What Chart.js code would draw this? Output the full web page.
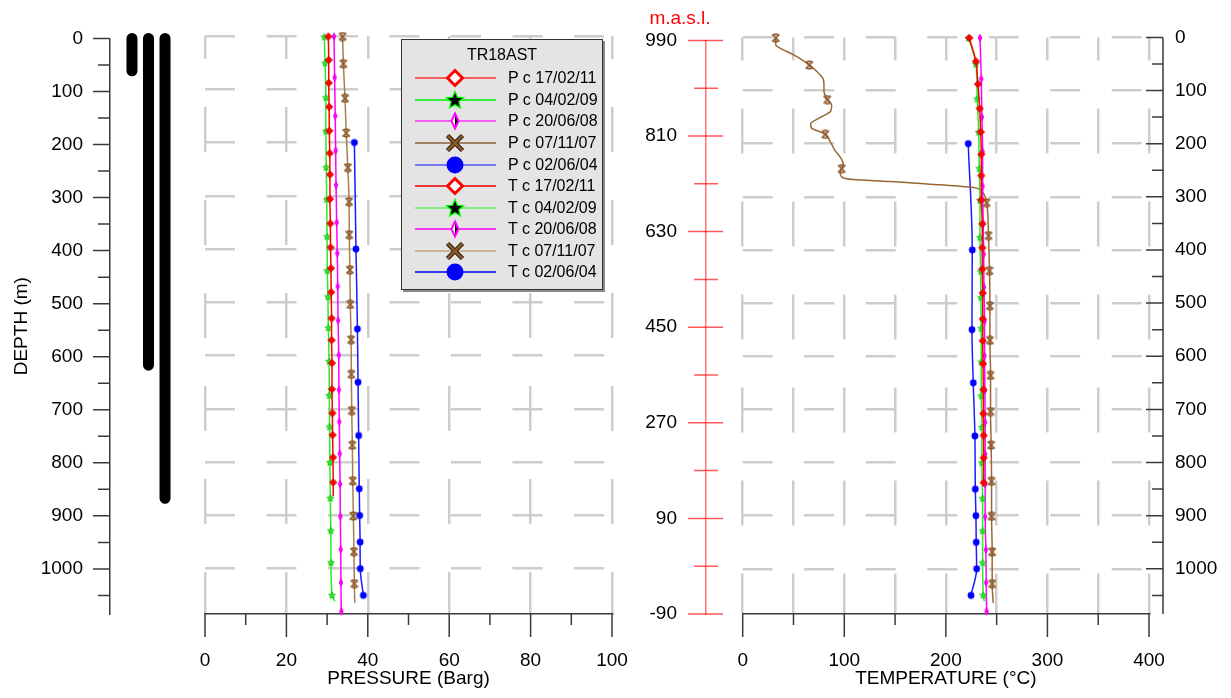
<!DOCTYPE html>
<html>
<head>
<meta charset="utf-8">
<script src="https://cdn.jsdelivr.net/npm/chart.js@4.4.1/dist/chart.umd.min.js"></script>
<style>
  html, body { margin: 0; padding: 0; background: #fff; }
  #wrap { position: relative; width: 1231px; height: 698px; overflow: hidden; font-family: 'Liberation Sans', Arial, sans-serif; }
  #wrap canvas.plot { position: absolute; top: 0; }
  #legend { position: absolute; left: 401px; top: 39px; width: 202px; height: 251px; box-sizing: border-box;
            background: #e4e4e4; border: 1px solid #333; box-shadow: 2px 2px 0 #8a8a8a; }
  #legend .tt { position: absolute; left: 0; right: 0; top: 6px; text-align: center; font-size: 16px; }
  #legend .row { position: absolute; left: 12px; height: 20px; width: 190px; }
  #legend .row canvas { position: absolute; left: 0; top: 0; }
  #legend .row span { position: absolute; left: 94px; top: 1px; font-size: 16px; white-space: nowrap; }
</style>
</head>
<body>
<div id="wrap">
  <canvas class="plot" id="cPress" width="640" height="698" style="left:0"></canvas>
  <canvas class="plot" id="cTemp" width="1231" height="698" style="left:0"></canvas>
  <canvas class="plot" id="cMasl" width="124" height="698" style="left:618px"></canvas>
  <canvas class="plot" id="cCasing" width="215" height="698" style="left:0"></canvas>
  <div id="legend"><div class="tt">TR18AST</div></div>
</div>
<script>
// ---- datos ----
const fechas = ['17/02/11', '04/02/09', '20/06/08', '07/11/07', '02/06/04'];

// tuberias de revestimiento (columna, profundidad de zapata en m)
const casingCol = [1, 2, 3];
const casingShoe = [61, 616, 867];

// presion (Barg) vs profundidad (m)
const pDepth1 = [1, 45, 88, 133, 178, 220, 260, 306, 352, 397, 436, 481, 530, 571, 614, 663, 708, 749, 791, 838, 864];
const pVal1   = [30.3, 30.4, 30.4, 30.5, 30.55, 30.65, 30.7, 30.7, 30.8, 30.85, 30.95, 31.0, 31.1, 31.1, 31.2, 31.2, 31.3, 31.35, 31.45, 31.5, 31.5];
const pDepth2 = [1, 50, 115, 178, 246, 306, 376, 440, 489, 547, 610, 674, 733, 800, 867, 928, 988, 1049, 1061];
const pVal2   = [29.3, 29.5, 29.7, 29.7, 29.8, 29.9, 30.0, 30.05, 30.2, 30.3, 30.5, 30.55, 30.6, 30.7, 30.8, 30.9, 30.95, 31.2, 31.9];
const pDepth3 = [1, 78, 150, 215, 280, 350, 408, 470, 534, 599, 664, 724, 784, 841, 902, 964, 1026, 1080];
const pVal3   = [31.7, 31.85, 32.0, 32.1, 32.2, 32.35, 32.5, 32.6, 32.7, 32.85, 32.9, 33.0, 33.1, 33.2, 33.25, 33.35, 33.4, 33.5];
const pDepth4 = [1, 52, 117, 182, 247, 311, 373, 439, 504, 570, 635, 703, 768, 835, 901, 968, 1028, 1064];
const pVal4   = [33.8, 34.0, 34.4, 34.7, 35.1, 35.4, 35.45, 35.6, 35.7, 35.9, 35.95, 36.05, 36.2, 36.3, 36.45, 36.6, 36.7, 36.8];
const pDepth5 = [200, 400, 550, 650, 750, 850, 900, 950, 1000, 1050];
const pVal5   = [36.7, 37.1, 37.45, 37.6, 37.75, 37.9, 38.0, 38.1, 38.15, 38.9];

// temperatura (C) vs profundidad (m)
const tDepth1 = [1, 45, 88, 134, 178, 220, 260, 306, 351, 396, 436, 481, 530, 571, 614, 663, 708, 749, 791, 838];
const tVal1   = [223, 229.6, 231.6, 233.3, 234.3, 234.9, 234.9, 234.9, 235.9, 235.9, 235.9, 236.3, 236.3, 236.3, 236.6, 236.9, 236.9, 237.2, 237.2, 237.2];
const tDepth2 = [1, 50, 115, 178, 246, 306, 376, 440, 489, 547, 610, 674, 733, 800, 867, 928, 988, 1049, 1061];
const tVal2   = [222.4, 229.6, 230.9, 232.3, 232.9, 233.6, 233.6, 234.3, 234.5, 234.9, 234.9, 234.9, 235.5, 235.5, 236.2, 236.2, 236.2, 236.8, 237.8];
const tDepth3 = [1, 78, 150, 215, 280, 350, 408, 470, 534, 599, 664, 724, 784, 841, 902, 964, 1026, 1080];
const tVal3   = [233.6, 234.9, 235.5, 236.2, 236.2, 236.8, 237.2, 237.5, 238.1, 238.1, 238.4, 238.7, 238.7, 238.7, 238.7, 239.4, 239.7, 240.1];
const tDepth4 = [1, 13.7, 20, 32.5, 43.7, 52, 63.7, 76.3, 88.8, 101, 117, 127.5, 138.8, 151, 162.5, 171, 177.5, 182.5, 195, 212.5,
                 229.4, 238.8, 247, 254.4, 262.5, 267.5, 271, 277.5, 282.5, 287.5, 295, 311, 373, 439, 505, 570, 636, 704, 767, 835,
                 901, 968, 1028, 1064];
const tVal4   = [32.5, 32.5, 36.7, 49.8, 59.6, 65.6, 72.8, 78.7, 80, 80, 83.3, 87.6, 86.6, 76.1, 66.9, 67.9, 76.1, 81.3, 85.9, 90.8,
                 97.4, 99, 97.4, 95.8, 97.4, 108.9, 145, 194.2, 227, 234.3, 237.5, 240.2, 242, 243, 243.4, 243.4, 244, 244, 244.6, 245,
                 245, 245.6, 245.6, 246.6];
const tMarks4 = [1, 52, 117, 182.5, 247, 311, 373, 439, 505, 570, 636, 704, 767, 835, 901, 968, 1028];
const tDepth5 = [200, 400, 550, 650, 750, 850, 900, 950, 1000, 1050];
const tVal5   = [222, 226, 225.7, 227, 228.6, 229, 229.6, 229.9, 230.3, 224.7];

// ejes
const depthMax = 1085;
const maslMin = -90, maslMax = 990;

const FONT = "'Liberation Sans', Arial, sans-serif";
Chart.defaults.font.family = FONT;
Chart.defaults.color = '#000';

const GRID = '#cdcdcd';
const AXIS = '#3a3a3a';
const DASH_V = [45, 48], DASH_H = [30, 31.5];
const COL_P = ['#ff0000', '#22ee22', '#ff00ff', '#a87d50', '#1a1aff'];
const COL_T = ['#ff0000', '#22ee22', '#ff00ff', '#9a6635', '#1a1aff'];
const COL_LEG_P = ['#ff3030', '#00ee00', '#ff33ff', '#8c6239', '#5555ff'];
const COL_LEG_T = ['#ee0000', '#66ee66', '#ff00ff', '#c4a582', '#0000ee'];
const FORMAS = ['diamond', 'star', 'thin', 'x', 'circle'];

// marcadores dibujados en un canvas pequeño
function marcador(tipo, grande) {
  const n = grande ? 22 : 10;
  const c = document.createElement('canvas');
  c.width = n; c.height = n;
  const g = c.getContext('2d');
  const m = n / 2;
  const r = grande ? 7.5 : 3.6;
  if (tipo === 'diamond') {
    g.beginPath(); g.moveTo(m, m - r); g.lineTo(m + r, m); g.lineTo(m, m + r); g.lineTo(m - r, m); g.closePath();
    if (grande) { g.fillStyle = '#fff'; g.fill(); g.lineWidth = 3; g.strokeStyle = '#ff0000'; g.stroke(); }
    else { g.fillStyle = '#ff0000'; g.fill(); g.lineWidth = 1; g.strokeStyle = '#dd0000'; g.stroke(); }
  } else if (tipo === 'star') {
    g.beginPath();
    for (let k = 0; k < 10; k++) {
      const rr = k % 2 ? r * 0.45 : r;
      const a = -Math.PI / 2 + k * Math.PI / 5;
      g.lineTo(m + rr * Math.cos(a), m + 0.5 + rr * Math.sin(a));
    }
    g.closePath();
    if (grande) { g.lineWidth = 2.5; g.strokeStyle = '#00ff00'; g.stroke(); g.fillStyle = '#000'; g.fill(); }
    else { g.fillStyle = '#22ee22'; g.fill(); g.lineWidth = 0.8; g.strokeStyle = '#11bb11'; g.stroke(); }
  } else if (tipo === 'thin') {
    const w = grande ? 3.5 : 1.8;
    g.beginPath(); g.moveTo(m, m - r); g.lineTo(m + w, m); g.lineTo(m, m + r); g.lineTo(m - w, m); g.closePath();
    if (grande) {
      g.fillStyle = '#fff'; g.fill();
      g.beginPath(); g.moveTo(m, m - r); g.lineTo(m + w, m); g.lineTo(m, m + r); g.closePath(); g.fillStyle = '#000'; g.fill();
      g.beginPath(); g.moveTo(m, m - r); g.lineTo(m + w, m); g.lineTo(m, m + r); g.lineTo(m - w, m); g.closePath();
      g.lineWidth = 2; g.strokeStyle = '#ff00ff'; g.stroke();
    } else { g.fillStyle = '#ff00ff'; g.fill(); g.lineWidth = 1; g.strokeStyle = '#ee00ee'; g.stroke(); }
  } else if (tipo === 'x') {
    g.lineCap = 'butt';
    g.beginPath(); g.moveTo(m - r, m - r); g.lineTo(m + r, m + r); g.moveTo(m + r, m - r); g.lineTo(m - r, m + r);
    if (grande) {
      g.lineWidth = 4.5; g.strokeStyle = '#1a1008'; g.stroke();
      g.lineWidth = 2.5; g.strokeStyle = '#8c5a28'; g.stroke();
    } else {
      g.moveTo(m - r * 0.6, m - r); g.lineTo(m + r * 0.6, m - r); g.moveTo(m - r * 0.6, m + r); g.lineTo(m + r * 0.6, m + r);
      g.lineWidth = 1.6; g.strokeStyle = '#8c5a2b'; g.stroke();
    }
  } else {
    g.beginPath(); g.arc(m, m, grande ? 8.5 : 3.4, 0, Math.PI * 2);
    g.fillStyle = '#0000ff'; g.fill();
  }
  return c;
}

const MK = FORMAS.map(f => marcador(f, false));

// serie de linea: x = valor, y = profundidad
function serie(depths, vals, color, idx, marcados) {
  return {
    data: depths.map((d, i) => ({ x: vals[i], y: d })),
    borderColor: color,
    borderWidth: 1.5,
    pointStyle: MK[idx],
    pointRadius: c => (marcados.includes(depths[c.dataIndex]) ? 4 : 0),
    cubicInterpolationMode: 'monotone',
    clip: 10
  };
}
const sinCola = d => d.slice(0, d.length - 1);

// marcas de los ejes (mayores y menores) usando la escala de Chart.js
const marcasEje = {
  id: 'marcasEje',
  afterDraw(chart, args, opts) {
    const ctx = chart.ctx, area = chart.chartArea;
    (opts.ejes || []).forEach(a => {
      const s = chart.scales[a.scale];
      const base = a.anchor === 'left' ? area.left : a.anchor === 'right' ? area.right : area.bottom;
      ctx.save();
      ctx.strokeStyle = a.color || AXIS;
      ctx.lineWidth = 1.5;
      ctx.beginPath();
      let i = 0;
      for (let v = a.from; v <= a.to + 1e-6; v += a.step, i++) {
        const p = s.getPixelForValue(v);
        const o = i % 2 === 0 ? a.major : a.minor;
        if (a.anchor === 'bottom') { ctx.moveTo(p, base + o[0]); ctx.lineTo(p, base + o[1]); }
        else { ctx.moveTo(base + o[0], p); ctx.lineTo(base + o[1], p); }
      }
      if (a.line !== undefined) { ctx.moveTo(base + a.line, area.top); ctx.lineTo(base + a.line, area.bottom); }
      ctx.stroke();
      ctx.restore();
    });
  }
};

const fuente = { family: FONT, size: 19 };
const gridY = c => (c.tick && c.tick.value % 100 === 0 && c.tick.value <= 1000 ? GRID : 'rgba(0,0,0,0)');
const depthScale = (extra) => Object.assign({
  type: 'linear', min: 0, max: depthMax, reverse: true,
  ticks: { stepSize: 100, autoSkip: false, font: fuente, callback: v => (v % 100 === 0 ? v : '') }
}, extra);
const ajusteX = s => { s.height = 84; s.paddingLeft = 0; s.paddingRight = 0; };

const base = {
  responsive: false, animation: false, indexAxis: 'y',
  events: [],
  plugins: { legend: { display: false }, tooltip: { enabled: false } }
};

// ---------- revestimientos + eje de profundidad ----------
new Chart(document.getElementById('cCasing'), {
  type: 'line',
  data: {
    datasets: casingCol.map((col, i) => ({
      data: [{ x: col, y: 0 }, { x: col, y: casingShoe[i] }],
      borderColor: '#000', borderWidth: 11, borderCapStyle: 'round', pointRadius: 0, clip: false
    }))
  },
  options: Object.assign({}, base, {
    layout: { padding: { left: 0, right: 10, top: 36, bottom: 84 } },
    plugins: Object.assign({}, base.plugins, {
      marcasEje: { ejes: [{ scale: 'y', anchor: 'left', from: 0, to: 1050, step: 50, major: [-17, 0], minor: [-12, 0] }] }
    }),
    scales: {
      x: { type: 'linear', min: -0.33, max: 5.42, display: false },
      y: depthScale({
        position: 'left',
        ticks: { stepSize: 100, autoSkip: false, font: fuente, padding: 27, callback: v => (v % 100 === 0 ? v : '') },
        grid: { display: false, drawTicks: false },
        border: { display: true, color: AXIS, width: 1.5 },
        title: { display: true, text: 'DEPTH (m)', font: fuente, padding: { top: 10.5, bottom: 0 } },
        afterFit: s => { s.width = 110; }
      })
    }
  }),
  plugins: [marcasEje]
});

// ---------- presion ----------
const dsPress = [
  serie(pDepth1, pVal1, COL_P[0], 0, sinCola(pDepth1)),
  serie(pDepth2, pVal2, COL_P[1], 1, sinCola(pDepth2)),
  serie(pDepth3, pVal3, COL_P[2], 2, pDepth3),
  serie(pDepth4, pVal4, COL_P[3], 3, sinCola(pDepth4)),
  serie(pDepth5, pVal5, COL_P[4], 4, pDepth5)
];
new Chart(document.getElementById('cPress'), {
  type: 'line',
  data: { datasets: dsPress },
  options: Object.assign({}, base, {
    layout: { padding: { left: 205, right: 28, top: 36, bottom: 0 } },
    plugins: Object.assign({}, base.plugins, {
      marcasEje: { ejes: [{ scale: 'x', anchor: 'bottom', from: 0, to: 100, step: 10, major: [0, 23], minor: [0, 11] }] }
    }),
    scales: {
      x: {
        type: 'linear', position: 'bottom', min: 0, max: 100,
        ticks: { stepSize: 20, font: fuente, padding: 35, maxRotation: 0 },
        grid: { color: GRID, lineWidth: 2.5, drawTicks: false },
        border: { display: true, color: AXIS, width: 1.5, dash: DASH_V, dashOffset: 22 },
        title: { display: true, text: 'PRESSURE (Barg)', font: fuente, padding: { top: 0, bottom: 8 } },
        afterFit: ajusteX
      },
      y: depthScale({
        ticks: { display: false, stepSize: 100 },
        grid: { color: gridY, lineWidth: 2.5, drawTicks: false },
        border: { display: false, dash: DASH_H },
        afterFit: s => { s.width = 0; }
      })
    }
  }),
  plugins: [marcasEje]
});

// ---------- temperatura ----------
const dsTemp = [
  serie(tDepth1, tVal1, COL_T[0], 0, tDepth1),
  serie(tDepth2, tVal2, COL_T[1], 1, sinCola(tDepth2)),
  serie(tDepth3, tVal3, COL_T[2], 2, tDepth3),
  serie(tDepth4, tVal4, COL_T[3], 3, tMarks4),
  serie(tDepth5, tVal5, COL_T[4], 4, tDepth5)
];
new Chart(document.getElementById('cTemp'), {
  type: 'line',
  data: { datasets: dsTemp },
  options: Object.assign({}, base, {
    layout: { padding: { left: 742.7, right: 0, top: 36, bottom: 0 } },
    plugins: Object.assign({}, base.plugins, {
      marcasEje: { ejes: [
        { scale: 'x', anchor: 'bottom', from: 0, to: 400, step: 50, major: [0, 23], minor: [0, 11] },
        { scale: 'y', anchor: 'right', from: 0, to: 1050, step: 50, major: [-3, 14], minor: [3, 14], line: 14 }
      ] }
    }),
    scales: {
      x: {
        type: 'linear', position: 'bottom', min: 0, max: 400,
        ticks: { stepSize: 50, autoSkip: false, font: fuente, padding: 35, maxRotation: 0, callback: v => (v % 100 === 0 ? v : '') },
        grid: { color: GRID, lineWidth: 2.5, drawTicks: false },
        border: { display: true, color: AXIS, width: 1.5, dash: DASH_V, dashOffset: 22 },
        title: { display: true, text: 'TEMPERATURE (°C)', font: fuente, padding: { top: 0, bottom: 8 } },
        afterFit: ajusteX
      },
      y: depthScale({
        position: 'right',
        ticks: { stepSize: 100, autoSkip: false, font: fuente, padding: 26, callback: v => (v % 100 === 0 ? v : '') },
        grid: { color: gridY, lineWidth: 2.5, drawTicks: false },
        border: { display: false, dash: DASH_H },
        afterFit: s => { s.width = 82; }
      })
    }
  }),
  plugins: [marcasEje]
});

// ---------- eje m.a.s.l. ----------
new Chart(document.getElementById('cMasl'), {
  type: 'line',
  data: { datasets: [] },
  options: Object.assign({}, base, {
    indexAxis: 'x',
    layout: { padding: { left: 0, right: 0, top: 0, bottom: 84 } },
    plugins: Object.assign({}, base.plugins, {
      title: { display: true, text: 'm.a.s.l.', color: '#ff0000', font: { family: FONT, size: 19, weight: 'normal' }, padding: { top: 7, bottom: 10 } },
      marcasEje: { ejes: [{ scale: 'y', anchor: 'left', from: maslMin, to: maslMax, step: 90, major: [-18, 17], minor: [-12, 12], color: 'rgba(255,0,0,0.65)' }] }
    }),
    scales: {
      x: { type: 'linear', min: 0, max: 1, display: false },
      y: {
        type: 'linear', min: maslMin, max: maslMax,
        ticks: { stepSize: 180, font: fuente, padding: 29 },
        grid: { display: false, drawTicks: false },
        border: { display: true, color: 'rgba(255,0,0,0.55)', width: 1.5 },
        afterFit: s => { s.width = 88; }
      }
    }
  }),
  plugins: [marcasEje]
});

// ---------- leyenda ----------
const leyenda = document.getElementById('legend');
const filas = fechas.map((f, i) => ({ txt: 'P c ' + f, col: COL_LEG_P[i], forma: FORMAS[i] }))
  .concat(fechas.map((f, i) => ({ txt: 'T c ' + f, col: COL_LEG_T[i], forma: FORMAS[i] })));
filas.forEach((r, i) => {
  const div = document.createElement('div');
  div.className = 'row';
  div.style.top = (28.3 + i * 21.56) + 'px';
  const cv = document.createElement('canvas');
  cv.width = 84; cv.height = 20;
  const g = cv.getContext('2d');
  g.strokeStyle = r.col; g.lineWidth = 1.5;
  g.beginPath(); g.moveTo(1, 10); g.lineTo(82, 10); g.stroke();
  const mk = marcador(r.forma, true);
  g.drawImage(mk, 41 - mk.width / 2, 10 - mk.height / 2);
  const sp = document.createElement('span');
  sp.textContent = r.txt;
  div.appendChild(cv); div.appendChild(sp);
  leyenda.appendChild(div);
});
</script>
</body>
</html>
